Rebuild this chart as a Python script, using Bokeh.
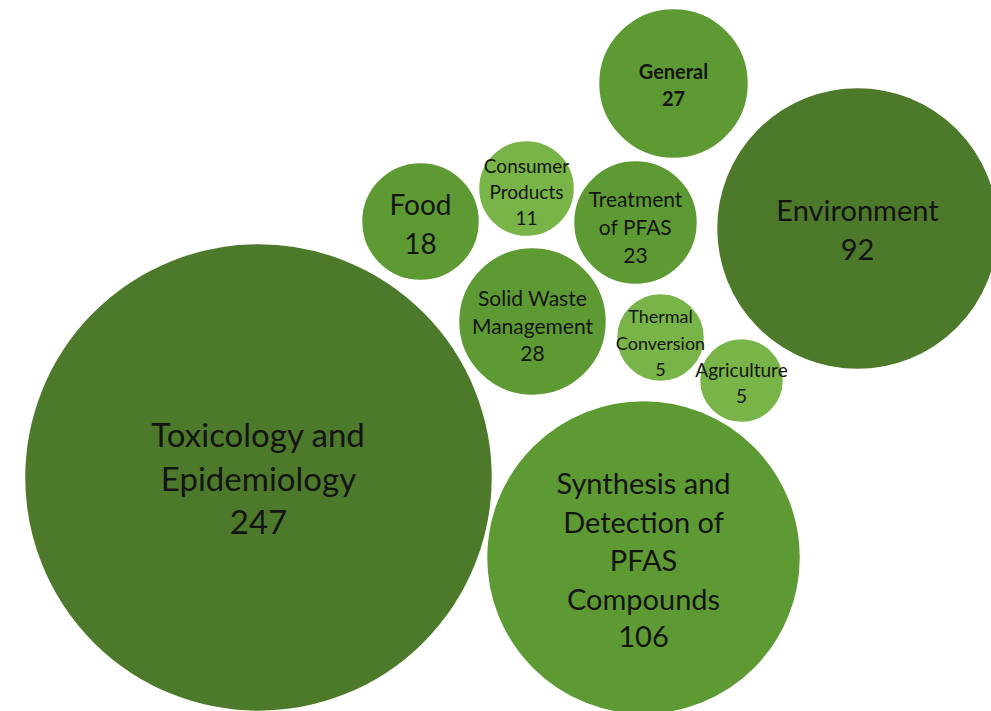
from bokeh.plotting import figure
from bokeh.models import Range1d, ColumnDataSource
from bokeh.core.properties import value
from bokeh.embed import file_html
from bokeh.resources import INLINE

# Publication counts per research topic
topics = ["Toxicology and\nEpidemiology", "Synthesis and\nDetection of\nPFAS\nCompounds",
          "Environment", "General", "Food", "Consumer\nProducts", "Treatment\nof PFAS",
          "Solid Waste\nManagement", "Thermal\nConversion", "Agriculture"]
counts = [247, 106, 92, 27, 18, 11, 23, 28, 5, 5]

# Bubble layout (canvas units, y grows downward) and bubble radius
bubble_x = [258, 643, 857, 673, 420, 526, 635, 532, 660, 741]
bubble_y = [477, 557, 228, 83, 221, 188, 222, 321, 337, 380]
bubble_r = [234, 157, 141, 75, 59, 48, 62, 74, 44, 42]
tone = ["dark", "mid", "dark", "mid", "mid", "light", "mid", "mid", "light", "light"]
palette = {"dark": "#4d7a2a", "mid": "#5e9a33", "light": "#78b448"}

# Label styling per bubble
font_px = [33, 29, 29, 20, 28, 19, 21, 21, 18, 19]
line_px = [44, 38.5, 40, 27, 40, 26, 28.5, 28, 27, 27]
label_dy = [0, 2, 1, 1, 2, 3, 4, 4, 5, 2]
bold = [False, False, False, True, False, False, False, False, False, False]

p = figure(width=991, height=711, output_backend="svg", toolbar_location=None,
           x_range=Range1d(0, 991), y_range=Range1d(711, 0),
           min_border=0, outline_line_color=None)
p.axis.visible = False
p.grid.visible = False
p.background_fill_color = "white"
p.border_fill_color = "white"

src = ColumnDataSource(dict(x=bubble_x, y=bubble_y, r=bubble_r,
                            c=[palette[t] for t in tone]))
p.circle(x="x", y="y", radius="r", fill_color="c", line_color="white",
         line_width=1.5, source=src)

# Stack each label's lines with the count beneath, centred on its bubble
tx, ty, tt, ts, tw = [], [], [], [], []
for name, n, x, y, fs, lh, dy, b in zip(topics, counts, bubble_x, bubble_y,
                                         font_px, line_px, label_dy, bold):
    lines = name.split("\n") + [str(n)]
    k = len(lines)
    for i, ln in enumerate(lines):
        tx.append(x)
        ty.append(y + dy + (i - (k - 1) / 2) * lh)
        tt.append(ln)
        ts.append(f"{fs}px")
        tw.append("bold" if b else "normal")

p.text(x=tx, y=ty, text=tt, text_font_size=ts, text_font_style=tw,
       text_font=value("Lato"), text_color="#141414",
       text_align="center", text_baseline="middle")

open("out.html", "w").write(file_html(p, INLINE))
